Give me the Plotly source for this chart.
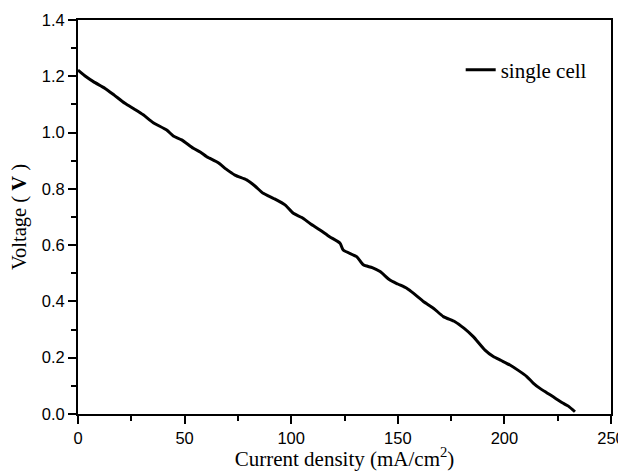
import plotly.graph_objects as go

# polarization curve
current_density = [0, 3.5, 7.2, 12.7, 17, 22, 26.5, 30.6, 35.3, 41.6, 44.7, 48.6, 54.1, 57.5,
                   60.4, 65.8, 69.5, 73.6, 79.1, 83, 86.9, 92, 97.1, 101, 105, 109, 113.5,
                   118, 122.9, 124.4, 130.7, 133.8, 138, 141.7, 146.3, 150, 154.2, 158,
                   162, 166.7, 171.4, 176.8, 181, 185.4, 190.9, 194.8, 198.5, 202.6, 206.5,
                   210.5, 213.5, 216.7, 220, 222.9, 225.5, 227.6, 230, 233.1]
voltage = [1.222, 1.20, 1.181, 1.157, 1.133, 1.104, 1.083, 1.063, 1.035, 1.009, 0.988, 0.974,
           0.944, 0.930, 0.914, 0.893, 0.870, 0.849, 0.832, 0.810, 0.784, 0.765, 0.743, 0.713,
           0.698, 0.676, 0.654, 0.630, 0.607, 0.583, 0.559, 0.530, 0.520, 0.506, 0.476, 0.462,
           0.447, 0.425, 0.400, 0.376, 0.346, 0.328, 0.305, 0.275, 0.227, 0.204, 0.190, 0.174,
           0.155, 0.133, 0.110, 0.091, 0.075, 0.061, 0.048, 0.038, 0.028, 0.008]

fig = go.Figure()
fig.add_trace(go.Scatter(x=current_density, y=voltage, mode='lines', name='single cell',
                         line=dict(color='black', width=3, shape='spline', smoothing=0.6)))

serif = 'Liberation Serif, Times New Roman'
axis_common = dict(showline=True, linecolor='black', linewidth=2, mirror=True,
                   ticks='outside', ticklen=8, tickwidth=2, tickcolor='black',
                   showgrid=False, zeroline=False, automargin=False,
                   tickfont=dict(family='Liberation Sans, Arial', size=16.5, color='black'))

# page body adds an 8px offset, so the figure is 8px smaller than the window
fig.update_layout(
    width=618, height=463,
    margin=dict(l=70, r=15, t=12, b=57),
    plot_bgcolor='white', paper_bgcolor='white',
    xaxis=dict(range=[0, 250], dtick=50,
               minor=dict(dtick=25, ticks='outside', ticklen=5, tickwidth=2, tickcolor='black'),
               title=dict(text='Current density (mA/cm<sup>2</sup>)', standoff=10,
                          font=dict(family=serif, size=21, color='black')),
               **axis_common),
    yaxis=dict(range=[0, 1.4], dtick=0.2, tickformat='.1f',
               minor=dict(dtick=0.1, ticks='outside', ticklen=5, tickwidth=2, tickcolor='black'),
               title=dict(text='Voltage ( <b>V</b> )', standoff=13,
                          font=dict(family=serif, size=20.5, color='black')),
               **axis_common),
    showlegend=True,
    legend=dict(x=0.718, y=0.873, xanchor='left', yanchor='middle', bgcolor='rgba(0,0,0,0)',
                font=dict(family=serif, size=21, color='black')),
)

fig.write_html('out.html')
